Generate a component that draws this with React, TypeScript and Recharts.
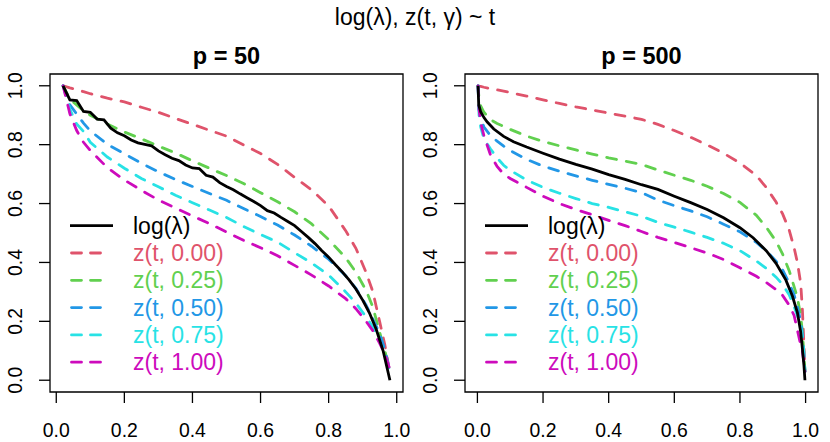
import React from 'react';
import { LineChart, Line, XAxis, YAxis, ReferenceArea, Legend } from 'recharts';

const FONT = '"Liberation Sans", Arial, Helvetica, sans-serif';

const gammaLabels = ['0.00', '0.25', '0.50', '0.75', '1.00'];
const gammaColors = ['#DF536B', '#61D04F', '#2297E6', '#28E2E5', '#CD0BBC'];
const gammaKeys = ['z000', 'z025', 'z050', 'z075', 'z100'];
const axisTicks = [0, 0.2, 0.4, 0.6, 0.8, 1.0];
const yDomain = [-0.04, 1.04];

// p = 50
const p50T = [0.02, 0.04, 0.06, 0.08, 0.10, 0.15, 0.20, 0.25, 0.30, 0.35, 0.40, 0.45, 0.50,
  0.55, 0.60, 0.65, 0.70, 0.75, 0.80, 0.85, 0.88, 0.91, 0.93, 0.95, 0.965, 0.98];
const p50Z000 = [1.0, 0.993, 0.987, 0.980, 0.973, 0.958, 0.945, 0.927, 0.910, 0.889, 0.869, 0.849, 0.829,
  0.799, 0.770, 0.733, 0.689, 0.646, 0.592, 0.508, 0.448, 0.366, 0.300, 0.198, 0.120, 0.025];
const p50Z025 = [1.0, 0.955, 0.935, 0.915, 0.900, 0.870, 0.843, 0.820, 0.795, 0.772, 0.745, 0.720, 0.695,
  0.668, 0.637, 0.606, 0.572, 0.531, 0.478, 0.416, 0.367, 0.305, 0.248, 0.162, 0.100, 0.030];
const p50Z050 = [1.0, 0.935, 0.904, 0.873, 0.847, 0.801, 0.769, 0.737, 0.708, 0.682, 0.658, 0.634, 0.611,
  0.583, 0.556, 0.527, 0.493, 0.455, 0.411, 0.355, 0.312, 0.255, 0.208, 0.158, 0.105, 0.030];
const p50Z075 = [1.0, 0.920, 0.870, 0.845, 0.808, 0.758, 0.720, 0.685, 0.657, 0.628, 0.603, 0.578, 0.553,
  0.522, 0.495, 0.469, 0.433, 0.398, 0.357, 0.300, 0.262, 0.215, 0.180, 0.134, 0.090, 0.030];
const p50Z100 = [1.0, 0.905, 0.848, 0.808, 0.780, 0.722, 0.680, 0.645, 0.612, 0.585, 0.558, 0.532, 0.503,
  0.475, 0.450, 0.423, 0.390, 0.357, 0.320, 0.277, 0.243, 0.200, 0.168, 0.125, 0.090, 0.035];
const p50LogT = [0.02, 0.04, 0.06, 0.08, 0.10, 0.12, 0.14, 0.16, 0.18, 0.20, 0.22, 0.24, 0.26, 0.28, 0.30,
  0.32, 0.34, 0.36, 0.38, 0.40, 0.42, 0.44, 0.46, 0.48, 0.50, 0.52, 0.54, 0.56, 0.58, 0.60, 0.62, 0.64,
  0.66, 0.68, 0.70, 0.72, 0.74, 0.76, 0.78, 0.80, 0.82, 0.84, 0.86, 0.88, 0.90, 0.92, 0.94, 0.96, 0.98];
const p50LogV = [1.0, 0.952, 0.950, 0.913, 0.910, 0.887, 0.884, 0.856, 0.840, 0.830, 0.816, 0.806, 0.801,
  0.796, 0.779, 0.766, 0.754, 0.746, 0.731, 0.721, 0.719, 0.696, 0.690, 0.671, 0.658, 0.647, 0.633, 0.620,
  0.607, 0.593, 0.576, 0.568, 0.553, 0.539, 0.525, 0.505, 0.485, 0.464, 0.440, 0.418, 0.392, 0.368, 0.341,
  0.310, 0.272, 0.228, 0.172, 0.100, 0.0];

// p = 500
const p500T = [0.002, 0.005, 0.01, 0.02, 0.04, 0.06, 0.08, 0.10, 0.15, 0.20, 0.25, 0.30, 0.35, 0.40, 0.45,
  0.50, 0.55, 0.60, 0.65, 0.70, 0.75, 0.80, 0.85, 0.88, 0.91, 0.93, 0.95, 0.965, 0.975, 0.985, 0.99, 0.995, 0.998];
const p500Z000 = [1.0, 0.999, 0.998, 0.995, 0.990, 0.986, 0.982, 0.977, 0.965, 0.952, 0.940, 0.928, 0.918,
  0.907, 0.897, 0.886, 0.869, 0.848, 0.825, 0.799, 0.771, 0.738, 0.695, 0.655, 0.605, 0.565, 0.510, 0.450,
  0.400, 0.330, 0.245, 0.120, 0.030];
const p500Z025 = [1.0, 0.955, 0.932, 0.910, 0.885, 0.872, 0.862, 0.852, 0.829, 0.811, 0.796, 0.782, 0.768,
  0.755, 0.744, 0.733, 0.714, 0.696, 0.679, 0.659, 0.634, 0.604, 0.560, 0.520, 0.472, 0.428, 0.372, 0.318,
  0.280, 0.220, 0.165, 0.090, 0.030];
const p500Z050 = [1.0, 0.920, 0.890, 0.860, 0.830, 0.812, 0.795, 0.780, 0.750, 0.727, 0.710, 0.694, 0.679,
  0.665, 0.652, 0.637, 0.612, 0.593, 0.575, 0.555, 0.530, 0.504, 0.468, 0.440, 0.404, 0.375, 0.330, 0.290,
  0.250, 0.200, 0.160, 0.090, 0.030];
const p500Z075 = [1.0, 0.900, 0.860, 0.820, 0.785, 0.755, 0.730, 0.713, 0.680, 0.655, 0.635, 0.617, 0.600,
  0.587, 0.572, 0.557, 0.536, 0.520, 0.503, 0.485, 0.465, 0.440, 0.405, 0.380, 0.350, 0.325, 0.290, 0.250,
  0.220, 0.180, 0.150, 0.090, 0.030];
const p500Z100 = [1.0, 0.920, 0.875, 0.830, 0.765, 0.726, 0.700, 0.685, 0.655, 0.625, 0.600, 0.580, 0.562,
  0.543, 0.525, 0.505, 0.485, 0.468, 0.450, 0.432, 0.410, 0.382, 0.353, 0.332, 0.308, 0.288, 0.255, 0.220,
  0.170, 0.120, 0.100, 0.060, 0.030];
const p500LogT = [0.002, 0.004, 0.01, 0.02, 0.03, 0.05, 0.08, 0.11, 0.15, 0.20, 0.25, 0.30, 0.35, 0.40, 0.45,
  0.50, 0.55, 0.60, 0.65, 0.70, 0.75, 0.80, 0.84, 0.88, 0.91, 0.94, 0.96, 0.975, 0.985, 0.99, 0.995, 0.998];
const p500LogV = [1.0, 0.935, 0.912, 0.892, 0.877, 0.853, 0.828, 0.810, 0.792, 0.771, 0.751, 0.733, 0.717,
  0.698, 0.682, 0.664, 0.648, 0.625, 0.603, 0.580, 0.552, 0.518, 0.484, 0.440, 0.397, 0.340, 0.285, 0.230,
  0.165, 0.110, 0.050, 0.0];

const mainTitle = 'log(\u03bb), z(t, \u03b3) ~ t';

const makeRows = (t: number[], series: number[][]) =>
  t.map((tv, i) => {
    const row: Record<string, number> = { t: tv };
    gammaKeys.forEach((k, j) => { row[k] = series[j][i]; });
    return row;
  });

const makeLog = (t: number[], v: number[]) => t.map((tv, i) => ({ t: tv, v: v[i] }));

const XTick = ({ x, y, payload }: any) => (
  <text x={x} y={y} dy={33.7} textAnchor="middle" fontSize={19.4} fontFamily={FONT} fill="#000">
    {Number(payload.value).toFixed(1)}
  </text>
);

const YTick = ({ x, y, payload }: any) => (
  <text x={x} y={y} dy={-17.3} transform={`rotate(-90, ${x}, ${y})`} textAnchor="middle"
    fontSize={19.4} fontFamily={FONT} fill="#000">
    {Number(payload.value).toFixed(1)}
  </text>
);

const legendLabels = ['log(\u03bb)', ...gammaLabels.map((g) => `z(t, ${g})`)];
const legendColors = ['#000000', ...gammaColors];

const renderLegend = () => (
  <svg width={240} height={195} style={{ display: 'block', overflow: 'visible' }}>
    {legendLabels.map((label, i) => {
      const ly = 25.7 + 27.3 * i;
      return (
        <g key={label}>
          {i === 0 ? (
            <line x1={10} x2={53} y1={ly} y2={ly} stroke="#000" strokeWidth={2.8} />
          ) : (
            <line x1={11.5} x2={40.5} y1={ly} y2={ly} stroke={legendColors[i]} strokeWidth={2.8}
              strokeDasharray="10 9" strokeLinecap="round" />
          )}
          <text x={73} y={ly + 8} fontSize={23} fontFamily={FONT} fill={legendColors[i]}>{label}</text>
        </g>
      );
    })}
  </svg>
);

interface PanelProps {
  rows: Record<string, number>[];
  logRows: { t: number; v: number }[];
  xDomain: [number, number];
  left: number;
}

const Panel: React.FC<PanelProps> = ({ rows, logRows, xDomain, left }) => (
  <div style={{ position: 'absolute', left, top: 0 }}>
    <LineChart width={415} height={442} margin={{ top: 74, right: 12, bottom: 10, left: 10 }}>
      <XAxis type="number" dataKey="t" domain={xDomain} ticks={axisTicks} allowDataOverflow interval={0}
        axisLine={false} tickLine={{ stroke: '#000', strokeWidth: 1.3 }} tickSize={11} tickMargin={0}
        tick={XTick} height={40} />
      <YAxis type="number" domain={yDomain} ticks={axisTicks} allowDataOverflow interval={0}
        axisLine={false} tickLine={{ stroke: '#000', strokeWidth: 1.3 }} tickSize={11} tickMargin={0}
        tick={YTick} width={40} />
      <ReferenceArea x1={xDomain[0]} x2={xDomain[1]} y1={yDomain[0]} y2={yDomain[1]}
        fill="none" fillOpacity={0} stroke="#000" strokeWidth={1.3} strokeOpacity={1} />
      {gammaKeys.map((k, j) => (
        <Line key={k} data={rows} dataKey={k} type="linear" stroke={gammaColors[j]} strokeWidth={2.8}
          strokeDasharray="10 10" strokeLinecap="round" dot={false} activeDot={false}
          isAnimationActive={false} />
      ))}
      <Line data={logRows} dataKey="v" type="linear" stroke="#000" strokeWidth={2.8} dot={false}
        activeDot={false} isAnimationActive={false} />
      <Legend layout="vertical" align="center" verticalAlign="middle" content={renderLegend}
        wrapperStyle={{ position: 'absolute', left: 60, top: 200, width: 240, height: 195 }} />
    </LineChart>
  </div>
);

const p50Rows = makeRows(p50T, [p50Z000, p50Z025, p50Z050, p50Z075, p50Z100]);
const p500Rows = makeRows(p500T, [p500Z000, p500Z025, p500Z050, p500Z075, p500Z100]);
const p50Log = makeLog(p50LogT, p50LogV);
const p500Log = makeLog(p500LogT, p500LogV);

export default function App() {
  return (
    <div style={{ position: 'absolute', left: 0, top: 0, width: 830, height: 442, background: '#fff',
      fontFamily: FONT }}>
      <Panel rows={p50Rows} logRows={p50Log} xDomain={[-0.0184, 1.0184]} left={0} />
      <Panel rows={p500Rows} logRows={p500Log} xDomain={[-0.0378, 1.0378]} left={415} />
      <svg width={830} height={442} style={{ position: 'absolute', left: 0, top: 0, pointerEvents: 'none' }}>
        <text x={415} y={25} textAnchor="middle" fontSize={23} fontFamily={FONT} fill="#000">
          {mainTitle}
        </text>
        <text x={226.5} y={64} textAnchor="middle" fontSize={23.5} fontWeight="bold" fontFamily={FONT}
          fill="#000">p = 50</text>
        <text x={641.5} y={64} textAnchor="middle" fontSize={23.5} fontWeight="bold" fontFamily={FONT}
          fill="#000">p = 500</text>
      </svg>
    </div>
  );
}
